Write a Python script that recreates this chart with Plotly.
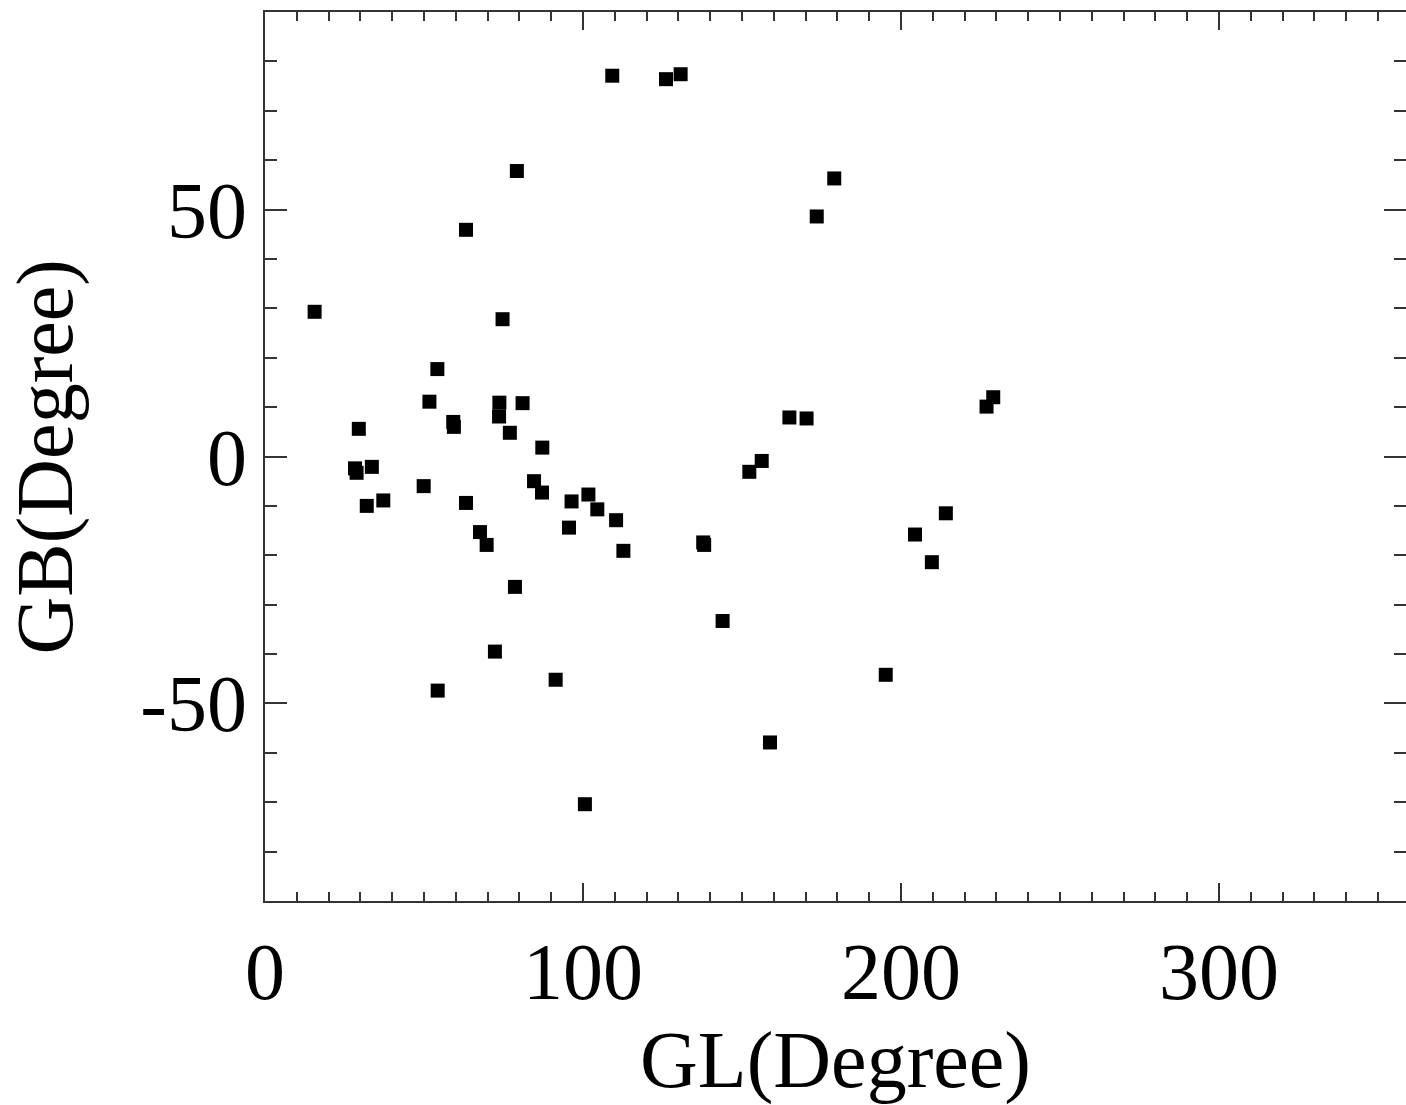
import plotly.graph_objects as go

# Galactic longitude (GL) and latitude (GB), degrees
gl = [15.6, 109.2, 126.1, 130.7, 79.2, 179.0, 173.5, 63.2, 74.7, 54.2,
      51.7, 73.7, 81.0, 73.6, 59.2, 59.4, 29.5, 77.0, 87.2, 164.9,
      170.3, 229.0, 226.9, 28.3, 28.8, 33.6, 156.2, 152.3, 49.9, 84.6,
      87.1, 32.0, 37.2, 63.2, 96.4, 101.7, 104.5, 110.4, 95.6, 67.6,
      69.7, 112.7, 137.8, 138.1, 204.4, 214.1, 209.7, 78.6, 143.9, 72.3,
      91.4, 195.2, 54.3, 158.8, 100.6]
gb = [29.3, 77.1, 76.4, 77.4, 57.8, 56.3, 48.6, 45.9, 27.8, 17.7,
      11.1, 10.9, 10.8, 8.1, 7.0, 6.0, 5.6, 4.8, 1.8, 7.9,
      7.7, 12.0, 10.1, -2.4, -3.3, -2.1, -0.9, -3.1, -6.0, -5.0,
      -7.3, -10.0, -8.9, -9.4, -9.1, -7.7, -10.7, -12.9, -14.4, -15.3,
      -17.9, -19.1, -17.4, -17.9, -15.8, -11.5, -21.4, -26.4, -33.3, -39.5,
      -45.2, -44.2, -47.4, -57.9, -70.4]

x_ticks = [0, 100, 200, 300]
x_labels = ["0", "100", "200", "300"]
y_ticks = [-50, 0, 50]
y_labels = ["-50", "0", "50"]

font = "Liberation Serif"

fig = go.Figure(go.Scatter(
    x=gl, y=gb, mode="markers",
    marker=dict(symbol="square", size=14, color="black", line=dict(width=0)),
    showlegend=False,
))

axis_common = dict(
    showgrid=False, zeroline=False, showline=True, linecolor="#333333", linewidth=2,
    ticks="inside", mirror="allticks", tickcolor="#333333", tickwidth=2,
    tickfont=dict(family=font, size=80, color="black"),
)

fig.update_xaxes(
    range=[0, 358.8], tickvals=x_ticks, ticktext=x_labels, ticklen=18,
    minor=dict(dtick=10, ticklen=9, ticks="inside", tickcolor="#333333", tickwidth=2),
    title=dict(text="GL(Degree)", font=dict(family=font, size=80, color="black"), standoff=8),
    **axis_common,
)
fig.update_yaxes(
    range=[-90, 90], tickvals=y_ticks, ticktext=y_labels, ticklen=22,
    minor=dict(dtick=10, ticklen=12, ticks="inside", tickcolor="#333333", tickwidth=2),
    **axis_common,
)

fig.add_annotation(
    text="GB(Degree)", textangle=-90, xref="paper", yref="paper",
    x=-0.192, y=0.5, xanchor="center", yanchor="middle", showarrow=False,
    font=dict(family=font, size=80, color="black"),
)

fig.update_layout(
    width=1406, height=1105,
    margin=dict(l=265, r=0, t=12, b=204, autoexpand=False),
    paper_bgcolor="white", plot_bgcolor="white",
)

fig.write_html(
    "out.html",
    config={"displayModeBar": False},
    post_script="document.body.style.margin='0';document.body.style.overflow='hidden';",
)
